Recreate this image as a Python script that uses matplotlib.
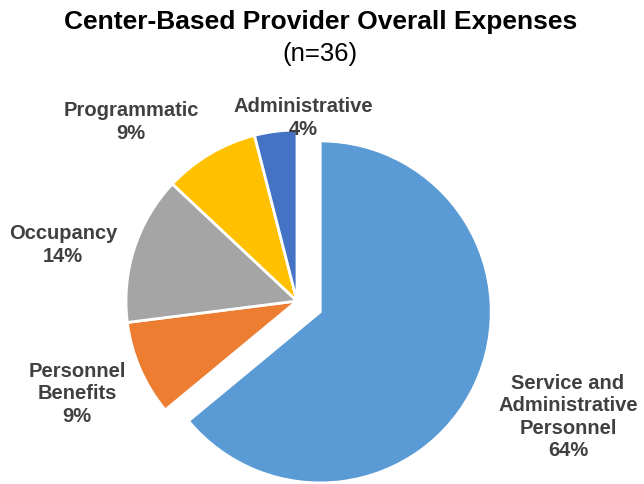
import matplotlib.pyplot as plt

# expense shares, in clockwise order starting at 12 o'clock
labels = ['Service and\nAdministrative\nPersonnel', 'Personnel\nBenefits', 'Occupancy',
          'Programmatic', 'Administrative']
shares = [64, 9, 14, 9, 4]
colors = ['#5B9BD5', '#ED7D31', '#A5A5A5', '#FFC000', '#4472C4']

# label anchor points in pixel coords (x, y from top), as placed in the original
label_pos = [(568, 417), (77, 394), (63, 245), (131, 122), (303, 118)]

plt.rcParams['font.family'] = ['Liberation Sans', 'DejaVu Sans']

W, H = 644, 485
R = 171  # pie radius in pixels
fig = plt.figure(figsize=(W / 100, H / 100), dpi=100)
ax = fig.add_axes([0, 0, 1, 1])

# explode is in data units here (pixels), pull the big slice out
ax.pie(shares, colors=colors, explode=[0.15 * R, 0, 0, 0, 0], startangle=90,
       counterclock=False, center=(297, H - 302), radius=R,
       wedgeprops=dict(edgecolor='white', linewidth=2))

ax.set_xlim(0, W)
ax.set_ylim(0, H)
ax.set_aspect('equal')
ax.axis('off')

for lab, val, (x, y) in zip(labels, shares, label_pos):
    ax.text(x, H - y, f'{lab}\n{val}%', ha='center', va='center', fontsize=14.5,
            fontweight='bold', color='#404040', linespacing=1.22)

ax.text(321, H - 22, 'Center-Based Provider Overall Expenses', ha='center', va='center',
        fontsize=19, fontweight='bold', color='black')
ax.text(320, H - 54, '(n=36)', ha='center', va='center', fontsize=18.5, color='black')

fig.savefig('out.png', dpi=100)
